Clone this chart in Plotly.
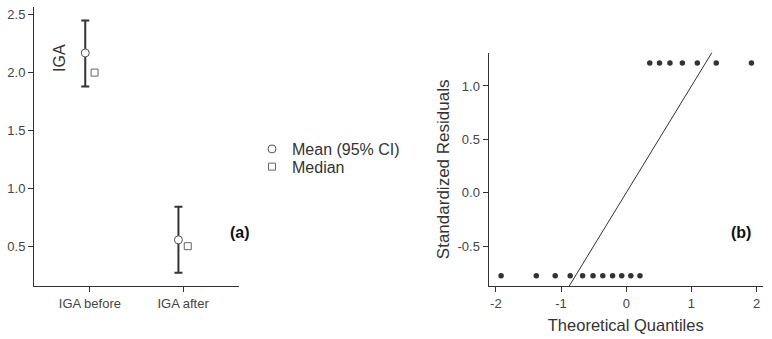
import plotly.graph_objects as go

# ---- data: panel (a) ----
categories = ["IGA before", "IGA after"]
mean_vals = [2.17, 0.555]
ci_upper = [2.45, 0.84]
ci_lower = [1.88, 0.27]
median_vals = [2.0, 0.5]
y1_ticks = [0.5, 1.0, 1.5, 2.0, 2.5]
y1_ticktext = ["0.5", "1.0", "1.5", "2.0", "2.5"]

# ---- data: panel (b) Q-Q ----
theoretical_q = [-1.92, -1.38, -1.09, -0.86, -0.67, -0.51, -0.36, -0.21, -0.07,
                 0.07, 0.21, 0.36, 0.51, 0.67, 0.86, 1.09, 1.38, 1.92]
std_resid = [-0.78] * 11 + [1.215] * 7
ref_line_x = [-2.5, 2.5]
ref_line_y = [-2.5, 2.5]
x2_ticks = [-2, -1, 0, 1, 2]
x2_ticktext = ["-2", "-1", "0", "1", "2"]
y2_ticks = [-0.5, 0.0, 0.5, 1.0]
y2_ticktext = ["-0.5", "0.0", "0.5", "1.0"]

W, H = 772, 339
FONT = "Liberation Sans, Arial, Helvetica, sans-serif"
INK = "#333333"
dodge = 0.05

cat_pos = list(range(len(categories)))
fig = go.Figure()

fig.add_trace(go.Scatter(
    x=[p - dodge for p in cat_pos], y=mean_vals, mode="markers",
    name="Mean (95% CI)", legend="legend",
    marker=dict(symbol="circle", size=8, color="white", line=dict(color="#555555", width=1)),
    error_y=dict(type="data", symmetric=False,
                 array=[u - m for u, m in zip(ci_upper, mean_vals)],
                 arrayminus=[m - l for m, l in zip(mean_vals, ci_lower)],
                 color=INK, thickness=2, width=4),
    xaxis="x", yaxis="y"))
fig.add_trace(go.Scatter(
    x=[p + dodge for p in cat_pos], y=median_vals, mode="markers",
    name="Median", legend="legend2",
    marker=dict(symbol="square", size=7, color="white", line=dict(color="#666666", width=1)),
    xaxis="x", yaxis="y"))

fig.add_trace(go.Scatter(
    x=theoretical_q, y=std_resid, mode="markers", showlegend=False,
    marker=dict(size=5.5, color=INK), xaxis="x2", yaxis="y2"))
fig.add_trace(go.Scatter(
    x=ref_line_x, y=ref_line_y, mode="lines", showlegend=False,
    line=dict(color=INK, width=1), xaxis="x2", yaxis="y2"))

def px_x(v):
    return v / W

def px_y(v):
    return 1 - v / H

axis_common = dict(showline=True, linecolor=INK, linewidth=1, ticks="outside",
                   ticklen=5, tickwidth=1, tickcolor=INK, showgrid=False, zeroline=False,
                   tickfont=dict(family=FONT, size=13, color="#444444"))

fig.update_layout(
    width=W, height=H,
    margin=dict(l=0, r=0, t=0, b=0),
    paper_bgcolor="white", plot_bgcolor="white",
    font=dict(family=FONT, color=INK),
    xaxis=dict(domain=[px_x(34), px_x(239)], range=[-0.6, 1.6],
               tickvals=cat_pos, ticktext=categories, anchor="y", **axis_common),
    yaxis=dict(domain=[px_y(286), px_y(7)], range=[0.156, 2.567],
               tickvals=y1_ticks, ticktext=y1_ticktext, anchor="x", **axis_common),
    xaxis2=dict(domain=[px_x(488.5), px_x(763)], range=[-2.113, 2.097],
                tickvals=x2_ticks, ticktext=x2_ticktext, anchor="y2",
                title=dict(text="Theoretical Quantiles", font=dict(size=16.5, color=INK), standoff=9),
                **axis_common),
    yaxis2=dict(domain=[px_y(286), px_y(52.7)], range=[-0.875, 1.312],
                tickvals=y2_ticks, ticktext=y2_ticktext, anchor="x2",
                title=dict(text="Standardized Residuals", font=dict(size=17, color=INK), standoff=3),
                **axis_common),
    legend=dict(x=px_x(252), y=px_y(149), xanchor="left", yanchor="middle",
                font=dict(family=FONT, size=16, color=INK), bgcolor="rgba(0,0,0,0)"),
    legend2=dict(x=px_x(252), y=px_y(166.7), xanchor="left", yanchor="middle",
                 font=dict(family=FONT, size=16, color=INK), bgcolor="rgba(0,0,0,0)"),
    annotations=[
        dict(text="IGA", textangle=-90, x=px_x(49), y=px_y(42.5), xref="paper", yref="paper",
             showarrow=False, font=dict(family=FONT, size=16, color=INK)),
        dict(text="<b>(a)</b>", x=px_x(228), y=px_y(243), xref="paper", yref="paper",
             showarrow=False, font=dict(family=FONT, size=16, color="#111111")),
        dict(text="<b>(b)</b>", x=px_x(753), y=px_y(242.7), xref="paper", yref="paper",
             showarrow=False, font=dict(family=FONT, size=16, color="#111111")),
    ],
)

fig.write_html("out.html")
